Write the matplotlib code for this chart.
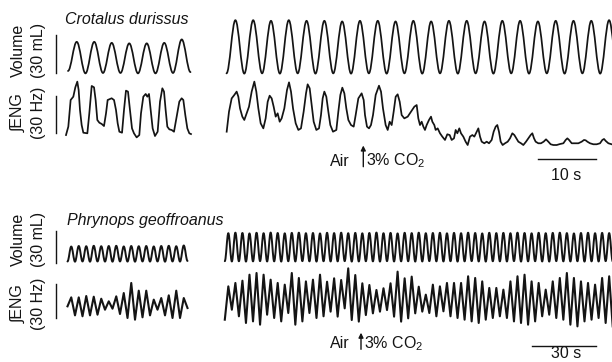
import numpy as np
import matplotlib
matplotlib.use("Agg")
import matplotlib.pyplot as plt
from matplotlib.path import Path
from matplotlib.patches import PathPatch

plt.rcParams['font.family'] = ['Liberation Sans', 'DejaVu Sans']
plt.rcParams['mathtext.fontset'] = 'custom'
plt.rcParams['mathtext.rm'] = 'Liberation Sans'
plt.rcParams['mathtext.it'] = 'Liberation Sans:italic'

INK = '#141414'
FS = 11.5

# ---------------- data: Crotalus durissus ----------------
# volume (mL), sampled at each trough / peak
crot_vol_left_troughs = [2.4, 0.5, 0.8, 0.8, 0.5, 0.5, 0.8, 1.5]
crot_vol_left_peaks = [25.4, 25.4, 24.6, 24.2, 24.2, 24.6, 27.3]
crot_vol_left_start = 0.34   # s
crot_vol_left_half = 1.509   # s between trough and peak

crot_vol_right_troughs = [0.5, 0.3, 0.5, 0.3, 0.5, 0.3, 0.5, 0.3, 0.5, 0.3, 0.5, 0.3,
                          0.5, 0.3, 0.5, 0.3, 0.5, 0.3, 0.5, 0.3, 0.5, 0.3, 0.5]
crot_vol_right_peaks = [42.5, 42.5, 42.0, 42.5, 42.0, 42.0, 41.5, 42.0, 42.0, 41.5, 42.0,
                        41.5, 42.0, 42.0, 41.5, 42.0, 42.0, 41.5, 42.0, 42.0, 42.0, 42.5]
crot_vol_right_half = 1.534

# integrated ENG (Hz)
crot_eng_left_t = [0, 0.4, 0.8, 1.26, 1.61, 1.95, 2.18, 2.41, 2.70, 2.99,
                   3.68, 4.02, 4.43, 4.83, 5.11, 5.40, 5.75, 6.15, 6.55, 6.90,
                   7.18, 7.87, 8.28, 8.62, 8.91, 9.20, 9.66, 10.0, 10.34, 10.69,
                   11.03, 11.38, 11.72, 12.18, 12.64, 12.93, 13.33, 13.74, 14.02, 14.31,
                   14.60, 14.94, 15.34, 15.80, 16.21, 16.61, 16.90, 17.18, 17.47, 17.82,
                   18.22, 18.62, 19.08, 19.54, 19.94, 20.23, 20.57, 20.92, 21.26, 21.55]
crot_eng_left_v = [2.4, 9.2, 30.8, 33.5, 41.1, 45.7, 38.9, 22.7, 10.5, 4.3,
                   3.8, 20.0, 42.2, 41.1, 30.8, 14.6, 12.4, 11.4, 9.7, 20.0,
                   30.8, 32.2, 30.8, 22.7, 11.9, 5.1, 4.3, 22.7, 38.4, 37.6,
                   22.7, 7.8, 3.8, 0.5, 2.4, 20.0, 33.5, 35.7, 33.5, 35.7,
                   22.7, 7.8, 1.6, 5.1, 29.5, 40.3, 37.6, 22.7, 9.2, 7.0,
                   6.5, 5.1, 17.3, 29.5, 32.2, 30.8, 18.6, 7.8, 3.8, 3.2]

crot_eng_right_t = [0.03, 0.43, 0.89, 1.35, 1.75, 2.04, 2.33, 2.73, 3.07, 3.48,
                    3.88, 4.34, 4.80, 5.14, 5.49, 5.89, 6.35, 6.75, 7.10, 7.44,
                    7.79, 8.13, 8.48, 8.82, 9.17, 9.51, 9.97, 10.43, 10.78, 11.12,
                    11.47, 11.93, 12.39, 12.84, 13.30, 13.71, 13.99, 14.34, 14.68, 15.03,
                    15.49, 15.95, 16.29, 16.58, 16.87, 17.21, 17.56, 17.90, 18.36, 18.94,
                    19.28, 19.63, 19.97, 20.32, 20.66, 21.01, 21.47, 21.93, 22.27, 22.73,
                    23.30, 23.65, 23.88, 24.22, 24.57, 24.91, 25.26, 25.72, 26.29, 26.64,
                    26.98, 27.44, 27.79, 28.13, 28.48, 28.82, 29.17, 29.51, 29.86, 30.20,
                    30.66, 31.24, 31.81, 32.39, 32.79,
                    33.07, 33.36, 33.65, 33.94, 34.22, 34.51, 34.91, 35.26, 35.49, 35.83,
                    36.06, 36.41, 36.81, 37.21, 37.67, 38.07, 38.48, 38.82, 39.22, 39.51,
                    39.80, 40.14, 40.43, 40.83, 41.23, 41.58, 41.98, 42.39, 42.73, 43.13,
                    43.42, 43.71, 44.00, 44.45, 44.86, 45.26, 45.72, 46.06, 46.41, 46.69,
                    46.98, 47.27, 47.61, 48.02, 48.48, 48.88, 49.28, 49.63, 49.97, 50.32,
                    50.78, 51.18, 51.64, 52.04, 52.44, 52.73, 53.02, 53.30, 53.76, 54.22,
                    54.68, 55.09, 55.49, 55.89, 56.35, 56.93, 57.50, 58.08, 58.48, 58.77,
                    59.06, 59.52, 60.09, 60.67, 61.24, 61.64, 61.93, 62.22, 62.68, 63.25,
                    63.83, 64.40, 64.80, 65.09, 65.38, 65.84, 66.41]
crot_eng_right_v = [11.6, 27.8, 38.6, 41.4, 44.1, 40.0, 30.5, 23.8, 21.1, 26.5,
                    31.9, 44.1, 52.2, 44.1, 30.5, 18.4, 14.3, 22.4, 35.9, 40.8,
                    38.6, 31.9, 23.8, 26.5, 19.7, 22.4, 30.5, 45.4, 51.6, 44.1,
                    30.5, 18.4, 13.0, 14.3, 27.8, 42.7, 50.0, 46.8, 33.2, 19.7,
                    13.0, 14.3, 25.1, 38.6, 44.1, 40.0, 27.8, 17.0, 11.6, 13.0,
                    27.8, 41.4, 47.3, 42.7, 30.5, 21.1, 17.0, 15.7, 25.1, 38.6,
                    42.7, 37.3, 25.1, 15.7, 14.3, 17.0, 25.1, 41.4, 48.9, 44.1,
                    30.5, 17.0, 13.0, 19.7, 17.0, 27.8, 40.0, 41.9, 35.9, 25.1,
                    22.4, 23.8, 27.8, 31.9, 33.2,
                    22.4, 17.0, 19.7, 15.7, 13.0, 17.0, 21.1, 23.8, 19.7, 17.0,
                    13.0, 14.3, 10.3, 7.6, 4.9, 9.5, 8.9, 4.9, 6.2, 13.0,
                    10.3, 14.3, 10.3, 7.6, 3.5, 0.8, 7.6, 8.9, 7.6, 11.6,
                    14.3, 7.6, 3.5, 2.2, 3.5, 2.2, 4.9, 11.6, 15.7, 17.0,
                    11.6, 3.5, 0.8, 2.2, 3.5, 6.2, 10.3, 8.9, 6.2, 3.5,
                    2.2, 0.8, 3.5, 6.2, 8.9, 10.3, 6.2, 3.5, 2.2, 2.2,
                    3.5, 5.4, 3.5, 1.4, 0.8, 0.8, 1.6, 2.2, 4.9, 6.2,
                    4.9, 2.2, 2.2, 2.2, 3.5, 4.9, 4.6, 3.5, 2.2, 1.4,
                    1.4, 2.2, 4.9, 5.7, 4.1, 2.2, 1.4]

# ---------------- data: Phrynops geoffroanus ----------------
phry_vol_left_troughs = [0.5, 0.3, 0.5, 0.3, 0.5, 0.4, 0.3, 0.5, 0.4, 0.3, 0.5, 0.4,
                         0.5, 0.3, 0.5, 0.4, 1.0]
phry_vol_left_peaks = [14.5, 15.0, 14.8, 15.2, 14.8, 15.0, 15.2, 14.6, 15.0, 14.8, 15.0,
                       14.6, 15.0, 15.2, 14.8, 15.5]
phry_left_half = 1.758

phry_vol_right_troughs = [0.8, 0.5, 0.7, 0.4, 0.6, 0.8, 0.5, 0.6, 0.4, 0.7,
                          0.5, 0.8, 0.6, 0.4, 0.7, 0.5, 0.6, 0.8, 0.4, 0.5,
                          0.7, 0.6, 0.4, 0.8, 0.5, 0.6, 0.7, 0.4, 0.5, 0.8,
                          0.6, 0.5, 0.7, 0.4, 0.6, 0.8, 0.5, 0.4, 0.7, 0.6,
                          0.5, 0.8, 0.4, 0.6, 0.7, 0.5, 0.4, 0.8, 0.6, 0.5,
                          0.7, 0.4, 0.6, 0.5, 0.8, 0.6]
phry_vol_right_peaks = [27.0, 27.5, 27.2, 26.8, 27.4, 27.0, 27.6, 27.2, 26.9, 27.3,
                        27.5, 27.0, 27.2, 26.8, 27.4, 27.1, 27.5, 27.0, 27.3, 26.9,
                        27.2, 27.6, 27.0, 27.3, 26.8, 27.4, 27.1, 27.5, 27.0, 27.2,
                        27.4, 26.9, 27.3, 27.0, 27.5, 27.2, 26.8, 27.4, 27.1, 27.3,
                        27.0, 27.5, 27.2, 26.9, 27.4, 27.0, 27.3, 27.5, 27.1, 26.8,
                        27.2, 27.4, 27.0, 27.3, 27.1]
phry_right_half = 1.653

phry_eng_left_troughs = [20.9, 12.9, 12.1, 12.9, 13.5, 17.9, 18.8, 14.1, 10.6, 9.1,
                         11.2, 12.9, 17.9, 12.9, 10.6, 10.6, 19.4]
phry_eng_left_peaks = [28.8, 28.8, 30.0, 29.4, 27.6, 25.3, 29.7, 32.6, 41.5, 34.7,
                       34.7, 26.8, 28.2, 30.6, 34.7, 28.2]

phry_eng_right_troughs = [9.1, 17.9, 12.1, 6.2, 7.6, 4.7, 13.5, 10.6, 7.6, 15.0,
                          4.7, 7.6, 15.0, 10.6, 12.1,
                          16.2, 11.8, 19.1, 8.8, 7.4, 13.2, 14.7, 16.2, 17.6, 11.8,
                          7.4, 10.3, 14.7, 16.2,
                          15.0, 12.1, 16.5, 12.1, 10.6, 9.1, 7.6, 6.2, 9.1, 10.6,
                          12.1, 10.6, 7.6, 6.2, 4.7, 7.6, 12.1, 13.5, 10.6, 9.1,
                          4.7, 3.2, 7.6, 9.1, 10.6, 6.2, 3.2]
phry_eng_right_peaks = [38.5, 41.5, 43.5, 48.8, 50.3, 48.8, 44.4, 41.5, 40.0, 50.3,
                        45.9, 42.9, 44.4, 48.8,
                        42.6, 45.6, 44.1, 54.4, 48.5, 41.2, 39.7, 35.3, 36.8, 41.2,
                        51.5, 45.6, 47.1, 38.2,
                        31.2, 40.0, 38.5, 41.5, 41.5, 41.5, 47.4, 45.9, 42.9, 37.1,
                        37.1, 35.6, 42.9, 47.4, 48.8, 42.9, 41.5, 35.6, 42.9, 45.9,
                        50.3, 45.9, 42.9, 41.5, 40.0, 45.9, 47.4]

VOL_SCALE = 30   # mL
ENG_SCALE = 30   # Hz
crot_time_bar = 10  # s
phry_time_bar = 30  # s

# ---------------- layout (pixels of the 612x362 canvas) ----------------
C_LEFT_X0, C_RIGHT_X0, C_PPS = 66, 226.5, 5.8
C_VOL_Y0, C_VOL_PPU = 74, 38 / 30
C_ENG_LY0, C_ENG_RY0, C_ENG_PPU = 138, 146, 37 / 30
P_LEFT_X0, P_RIGHT_X0, P_PPS = 67.5, 224.8, 64 / 30
P_VOL_Y0, P_VOL_PPU = 262, 32 / 30
P_ENG_Y0, P_ENG_PPU = 330, 34 / 30


def interleave(troughs, peaks):
    out = []
    for i in range(len(peaks)):
        out.append(troughs[i])
        out.append(peaks[i])
    if len(troughs) > len(peaks):
        out.append(troughs[len(peaks)])
    return out


def to_px(t, v, x0, pps, y0, ppu):
    return x0 + np.asarray(t) * pps, y0 - np.asarray(v) * ppu


def smooth_trace(ax, xs, ys, lw):
    # cubic segments with flat tangents at every extremum
    verts = [(xs[0], ys[0])]
    codes = [Path.MOVETO]
    for i in range(1, len(xs)):
        dx = xs[i] - xs[i - 1]
        verts += [(xs[i - 1] + 0.364 * dx, ys[i - 1]), (xs[i] - 0.364 * dx, ys[i]), (xs[i], ys[i])]
        codes += [Path.CURVE4] * 3
    ax.add_patch(PathPatch(Path(verts, codes), fill=False, lw=lw, edgecolor=INK,
                           capstyle='round', joinstyle='round'))


def sampled(troughs, peaks, start, half):
    v = interleave(troughs, peaks)
    t = start + np.arange(len(v)) * half
    return t, v


fig = plt.figure(figsize=(6.12, 3.62), dpi=100)
ax = fig.add_axes([0, 0, 1, 1])
ax.set_xlim(0, 612)
ax.set_ylim(362, 0)
ax.axis('off')

# Crotalus traces
t, v = sampled(crot_vol_left_troughs, crot_vol_left_peaks, crot_vol_left_start, crot_vol_left_half)
smooth_trace(ax, *to_px(t, v, C_LEFT_X0, C_PPS, C_VOL_Y0, C_VOL_PPU), lw=1.25)
t, v = sampled(crot_vol_right_troughs, crot_vol_right_peaks, 0, crot_vol_right_half)
smooth_trace(ax, *to_px(t, v, C_RIGHT_X0, C_PPS, C_VOL_Y0, C_VOL_PPU), lw=1.25)

x, y = to_px(crot_eng_left_t, crot_eng_left_v, C_LEFT_X0, C_PPS, C_ENG_LY0, C_ENG_PPU)
ax.plot(x, y, color=INK, lw=1.25, solid_joinstyle='round')
x, y = to_px(crot_eng_right_t, crot_eng_right_v, C_RIGHT_X0, C_PPS, C_ENG_RY0, C_ENG_PPU)
ax.plot(x, y, color=INK, lw=1.25, solid_joinstyle='round')

# Phrynops traces
t, v = sampled(phry_vol_left_troughs, phry_vol_left_peaks, 0, phry_left_half)
smooth_trace(ax, *to_px(t, v, P_LEFT_X0, P_PPS, P_VOL_Y0, P_VOL_PPU), lw=1.4)
t, v = sampled(phry_vol_right_troughs, phry_vol_right_peaks, 0, phry_right_half)
smooth_trace(ax, *to_px(t, v, P_RIGHT_X0, P_PPS, P_VOL_Y0, P_VOL_PPU), lw=1.4)

t, v = sampled(phry_eng_left_troughs, phry_eng_left_peaks, 0, phry_left_half)
x, y = to_px(t, v, P_LEFT_X0, P_PPS, P_ENG_Y0, P_ENG_PPU)
ax.plot(x, y, color=INK, lw=1.5, solid_joinstyle='round')
t, v = sampled(phry_eng_right_troughs, phry_eng_right_peaks, 0, phry_right_half)
x, y = to_px(t, v, P_RIGHT_X0, P_PPS, P_ENG_Y0, P_ENG_PPU)
ax.plot(x, y, color=INK, lw=1.5, solid_joinstyle='round')

# amplitude scale bars
bar_x = 56
for bottom, ppu in [(73, C_VOL_PPU), (133, C_ENG_PPU), (263, P_VOL_PPU), (318, P_ENG_PPU)]:
    ax.plot([bar_x, bar_x], [bottom, bottom - VOL_SCALE * ppu], color=INK, lw=1.0)

# time scale bars
ax.plot([596 - crot_time_bar * C_PPS, 596], [159.3, 159.3], color=INK, lw=1.0)
ax.text(566.5, 175, '10 s', fontsize=FS, ha='center', va='center', color=INK)
ax.plot([596 - phry_time_bar * P_PPS, 596], [346, 346], color=INK, lw=1.0)
ax.text(566.5, 361.5, '30 s', fontsize=FS, ha='center', va='bottom', color=INK)

# titles and axis labels
ax.text(65, 20, 'Crotalus durissus', fontsize=FS, style='italic', ha='left', va='center', color=INK)
ax.text(67, 220.5, 'Phrynops geoffroanus', fontsize=FS, style='italic', ha='left', va='center', color=INK)

for yv, ye in [(50, 113), (239.5, 303.5)]:
    ax.text(18.5, yv, 'Volume', fontsize=FS, rotation=90, ha='center', va='center', color=INK)
    ax.text(39, yv, '(30 mL)', fontsize=FS, rotation=90, ha='center', va='center', color=INK)
    ax.text(18.5, ye, '\u222bENG', fontsize=FS, rotation=90, ha='center', va='center', color=INK)
    ax.text(39, ye, '(30 Hz)', fontsize=FS, rotation=90, ha='center', va='center', color=INK)

# gas switch markers
for ytxt, xarr, ytop, ybot in [(161, 363.3, 145.5, 166.7), (343.3, 361, 332.7, 349.3)]:
    ax.text(339.5, ytxt, 'Air', fontsize=FS, ha='center', va='center', color=INK)
    ax.annotate('', xy=(xarr, ytop), xytext=(xarr, ybot),
                arrowprops=dict(arrowstyle='-|>', color=INK, lw=1.0, mutation_scale=7,
                                shrinkA=0, shrinkB=0))
    ax.text(xarr + 3, ytxt, '3% CO$_2$', fontsize=FS, ha='left', va='center', color=INK)

fig.savefig('out.png', dpi=100, facecolor='white')
